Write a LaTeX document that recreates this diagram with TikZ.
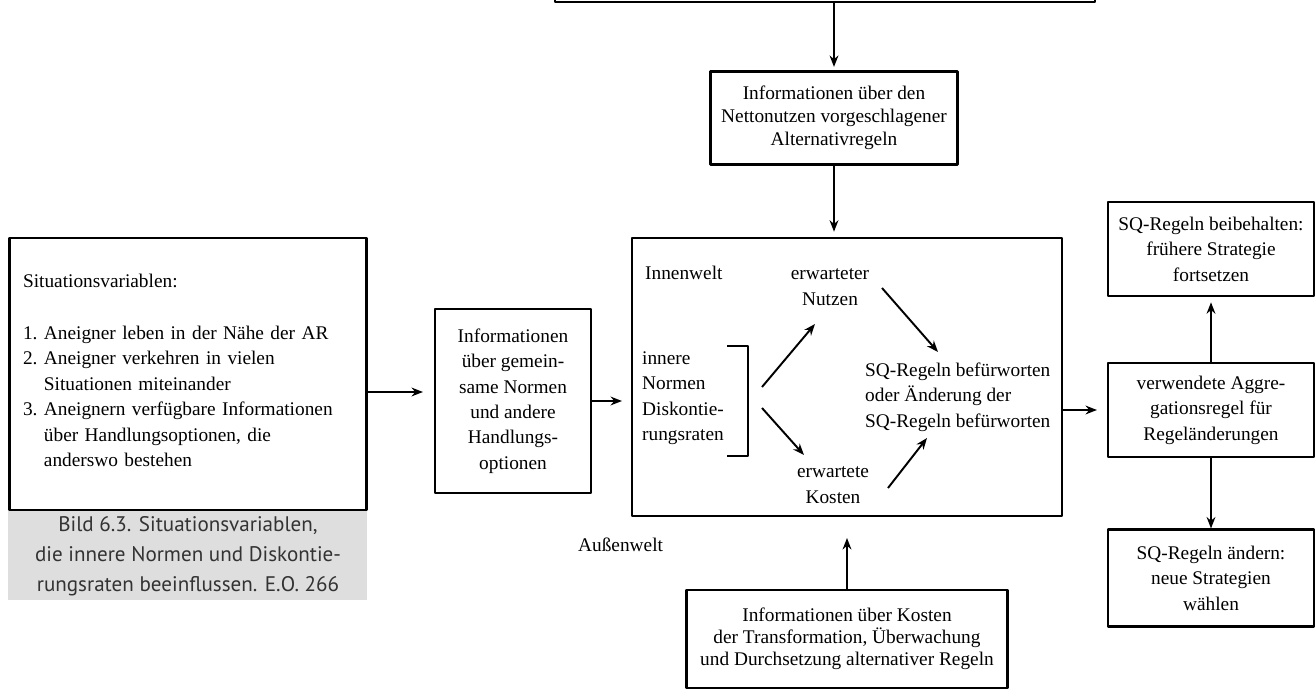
\documentclass[tikz,border=0pt]{standalone}
\usepackage{fontspec}
\setmainfont{Liberation Serif}
\newfontfamily\capfont{PT Sans}
\usetikzlibrary{arrows.meta}
\definecolor{capgray}{HTML}{DEDEDE}
\definecolor{captext}{HTML}{333333}

\begin{document}
\begin{tikzpicture}[>={Stealth[length=6.5pt,width=5pt]},line join=round,x=0.02cm,y=-0.02cm,
	font=\fontsize{11}{14.5}\selectfont,
	box/.style={draw,line width=1.2pt,align=center,inner sep=2pt},
	pfeil/.style={->,line width=1.1pt,shorten >=2pt}]
	
	\useasboundingbox (0,0) rectangle (1316,692);
	% Bildunterschrift
	\fill[capgray] (8,510) rectangle (367,600);
	\node[font=\capfont\fontsize{12}{17}\selectfont,text=captext,align=center] (cap) at (188,556) {Bild 6.3. Situationsvariablen,\\die innere Normen und Diskontie-\\rungsraten beeinflussen. E.O. 266};
	
	\begin{scope}
		\clip (0,0) rectangle (1316,692);
		\node[box,minimum width=10.8cm,minimum height=2cm] (oben) at (825,-48) {}; % abgeschnittener Kasten
	\end{scope}
	\node[box,minimum width=4.94cm,minimum height=1.86cm,font=\fontsize{11}{13}\selectfont] (netto) at (834,118) {Informationen über den\\Nettonutzen vorgeschlagener\\Alternativregeln};
	\node[box,minimum width=8.6cm,minimum height=5.56cm] (welt) at (847,377) {};
	\node[box,minimum width=7.14cm,minimum height=5.44cm,align=left,text width=6.6cm] (sit) at (188,374) {Situationsvariablen:\\[15pt]
		\begin{tabular}[t]{@{}l@{\ }l@{}}
			1. & Aneigner leben in der Nähe der AR\\
			2. & Aneigner verkehren in vielen\\
			   & Situationen miteinander\\
			3. & Aneignern verfügbare Informationen\\
			   & über Handlungsoptionen, die\\
			   & anderswo bestehen
		\end{tabular}};
	\node[box,minimum width=3.12cm,minimum height=3.68cm] (info) at (513,401) {Informationen\\über gemein-\\same Normen\\und andere\\Handlungs-\\optionen};
	\node[box,minimum width=6.42cm,minimum height=1.96cm,font=\fontsize{11}{12.5}\selectfont] (kosteninfo) at (847,639) {Informationen über Kosten\\der Transformation, Überwachung\\und Durchsetzung alternativer Regeln};
	\node[box,minimum width=4.12cm,minimum height=1.88cm] (behalten) at (1211,249) {SQ-Regeln beibehalten:\\frühere Strategie\\fortsetzen};
	\node[box,minimum width=4.12cm,minimum height=1.88cm] (aggregation) at (1211,410) {verwendete Aggre-\\gationsregel für\\Regeländerungen};
	\node[box,minimum width=4.12cm,minimum height=1.94cm] (aendern) at (1211,578) {SQ-Regeln ändern:\\neue Strategien\\wählen};
	
	% Innenwelt
	\node[anchor=west] (innen) at (639,273) {Innenwelt};
	\node[align=center] (nutzen) at (830,287) {erwarteter\\Nutzen};
	\node[align=left,anchor=west] (normen) at (636,398) {innere\\Normen\\Diskontie-\\rungsraten};
	\node[align=center] (kosten) at (833,485) {erwartete\\Kosten};
	\node[align=left,anchor=west] (sq) at (859,397) {SQ-Regeln befürworten\\oder Änderung der\\SQ-Regeln befürworten};
	\node[anchor=west] (aussen) at (572,545) {Außenwelt};
	\draw[line width=1.1pt] (727,346) -| (748,456) -- (727,456); % Klammer
	
	\coordinate (n1) at (762,387); \coordinate (n2) at (815,324);
	\coordinate (k1) at (762,408); \coordinate (k2) at (804,455);
	\coordinate (u1) at (882,288); \coordinate (u2) at (938,352);
	\coordinate (v1) at (888,488); \coordinate (v2) at (927,438);
	\draw[pfeil,shorten >=0pt] (n1) -- (n2);
	\draw[pfeil,shorten >=0pt] (k1) -- (k2);
	\draw[pfeil,shorten >=0pt] (u1) -- (u2);
	\draw[pfeil,shorten >=0pt] (v1) -- (v2);
	
	% Pfeile zwischen den Kästen
	\draw[pfeil] (oben.south -| netto.north) -- (netto.north);
	\draw[pfeil,shorten >=3pt] (netto.south) -- (netto.south |- welt.north);
	\draw[pfeil,shorten >=0.22cm] (sit.east |- 0,392) -- (info.west |- 0,392);
	\draw[pfeil,shorten >=0.18cm] (info.east) -- (info.east -| welt.west);
	\draw[pfeil,shorten >=0.2cm] (welt.east |- aggregation.west) -- (aggregation.west);
	\draw[pfeil,shorten >=3pt] (aggregation.north) -- (behalten.south);
	\draw[pfeil,shorten >=0pt] (aggregation.south) -- (aendern.north);
	\draw[pfeil,shorten >=0.42cm] (kosteninfo.north) -- (kosteninfo.north |- welt.south);
\end{tikzpicture}
\end{document}
